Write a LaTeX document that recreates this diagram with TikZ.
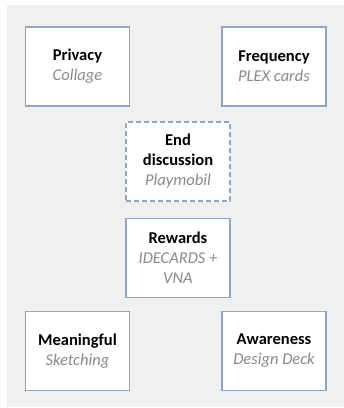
\documentclass[tikz,border=0pt]{standalone}
\usepackage{fontspec}
\setmainfont{Carlito}
\usepackage{xcolor}

\definecolor{boxline}{HTML}{8AA8C8}
\definecolor{panel}{HTML}{F0F0F0}
\definecolor{tool}{HTML}{8A8A8A}

\newcommand{\topic}[2]{\textbf{#1}\\{\itshape\color{tool}#2}}

\begin{document}
\begin{tikzpicture}[x=1pt,y=-1pt,
    card/.style={draw=boxline, line width=1.1pt, fill=white, minimum width=104pt,
      minimum height=79pt, align=center, inner sep=2pt,
      font=\fontsize{16.5}{20}\selectfont},
    opencard/.style={card, dashed, dash pattern=on 5pt off 3pt}]
    \useasboundingbox (0,0) rectangle (344,408);
    \fill[panel] (7,5) rectangle (344,407);
    % four corners
    \node[card] (privacy) at (77.5,66.5) {\topic{Privacy}{Collage}};
    \node[card] (frequency) at (274,66.5) {\topic{Frequency}{PLEX cards}};
    \node[card] (meaningful) at (77.5,351) {\topic{Meaningful}{Sketching}};
    \node[card] (awareness) at (274,351) {\topic{Awareness}{Design Deck}};
    % middle column
    \node[opencard] (enddisc) at (178,161.5) {\textbf{End}\\\topic{discussion}{Playmobil}};
    \node[card] (rewards) at (178,258) {\textbf{Rewards}\\{\itshape\color{tool}IDECARDS +}\\{\itshape\color{tool}VNA}};
\end{tikzpicture}
\end{document}
